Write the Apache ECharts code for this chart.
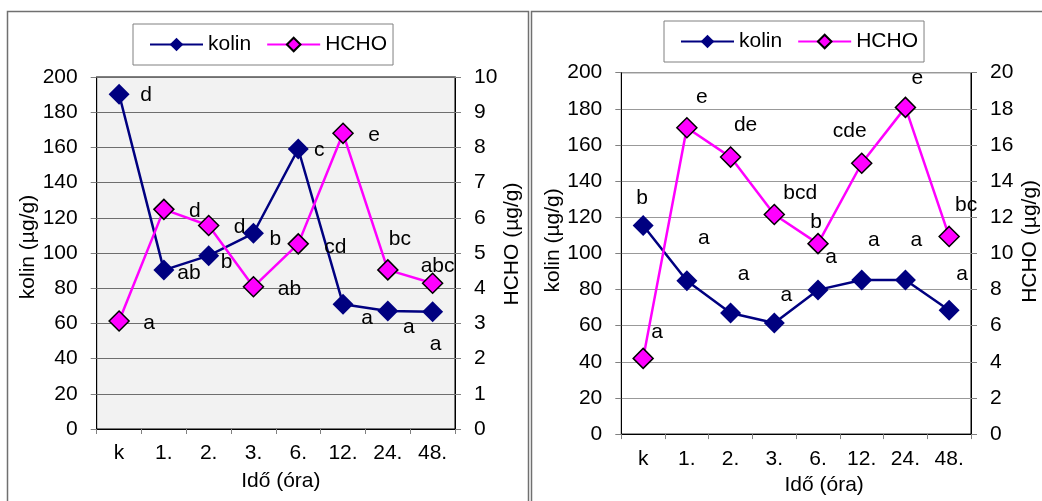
<!DOCTYPE html>
<html><head><meta charset="utf-8">
<script src="https://cdn.jsdelivr.net/npm/echarts@6/dist/echarts.min.js"></script>
<style>html,body{margin:0;padding:0;background:#fff}#c{width:1042px;height:501px}</style>
</head><body><div id="c"></div>
<script>
// ---- data ----
const categories = ['k', '1.', '2.', '3.', '6.', '12.', '24.', '48.'];
const leftKolin = [190.2, 90.3, 98.5, 111.2, 159.1, 70.9, 67.0, 66.6];
const leftHcho = [3.07, 6.24, 5.78, 4.04, 5.26, 8.40, 4.52, 4.14];
const rightKolin = [115.4, 84.9, 67.0, 61.5, 79.8, 85.3, 85.3, 68.5];
const rightHcho = [4.19, 16.95, 15.33, 12.15, 10.54, 14.99, 18.08, 10.94];
const leftKolinLetters = ['d', 'ab', 'b', 'b', 'c', 'a', 'a', 'a'];
const leftHchoLetters = ['a', 'd', 'd', 'ab', 'cd', 'e', 'bc', 'abc'];
const rightKolinLetters = ['b', 'a', 'a', 'a', 'a', 'a', 'a', 'a'];
const rightHchoLetters = ['a', 'e', 'de', 'bcd', 'b', 'cde', 'e', 'bc'];
const kolinAxis = { min: 0, max: 200, interval: 20 };
const leftHchoAxis = { min: 0, max: 10, interval: 1 };
const rightHchoAxis = { min: 0, max: 20, interval: 2 };
const seriesNames = ['kolin', 'HCHO'];
const xTitle = 'Idő (óra)';
const kolinTitle = 'kolin (µg/g)';
const hchoTitle = 'HCHO (µg/g)';

// ---- layout (label placement relative to points) ----
const leftKolinOffsets = [[27,1],[25,3],[18,7],[22,6],[21,1],[24,14],[21,16],[3,32]];
const leftHchoOffsets = [[30,2],[31,2],[31,2],[36,2],[37,3],[31,2],[12,-31],[5,-17]];
const rightKolinOffsets = [[-1,-27],[17,-42],[13,-39],[12,-28],[13,-33],[12,-40],[11,-40],[13,-36]];
const rightHchoOffsets = [[14,-26],[15,-31],[15,-32],[26,-21],[-2,-21],[-12,-32],[12,-29],[17,-31]];

const FONT = 'Liberation Sans, Arial, sans-serif';
const FS = 21;
const NAVY = '#000080', MAG = '#ff00ff';

function items(vals, letters, offs) {
  return vals.map((v, i) => ({
    value: v,
    label: { formatter: letters[i], offset: offs[i] }
  }));
}
const labelBase = { show: true, position: 'inside', color: '#000', fontSize: FS, fontFamily: FONT };

function kolinSeries(gi, vals, letters, offs) {
  return {
    name: seriesNames[0], type: 'line', xAxisIndex: gi, yAxisIndex: gi * 2,
    data: items(vals, letters, offs), symbol: 'diamond', symbolSize: 21,
    itemStyle: { color: NAVY }, lineStyle: { color: NAVY, width: 2.5 },
    label: labelBase, clip: false, z: 2, emphasis: { disabled: true }
  };
}
function hchoSeries(gi, vals, letters, offs) {
  return {
    name: seriesNames[1], type: 'line', xAxisIndex: gi, yAxisIndex: gi * 2 + 1,
    data: items(vals, letters, offs), symbol: 'diamond', symbolSize: 20,
    itemStyle: { color: MAG, borderColor: '#000', borderWidth: 1.5 },
    lineStyle: { color: MAG, width: 2.5 },
    label: labelBase, clip: false, z: 3, emphasis: { disabled: true }
  };
}
function xAxis(gi, labelMargin, nameGap, namePad) {
  return {
    type: 'category', gridIndex: gi, data: categories, boundaryGap: true,
    axisLine: { lineStyle: { color: '#000', width: 1 } },
    axisTick: { show: true, length: 5, lineStyle: { color: '#808080' } },
    axisLabel: { color: '#000', fontSize: FS, fontFamily: FONT, margin: labelMargin, interval: 0 },
    name: xTitle, nameLocation: 'middle', nameGap: nameGap,
    nameTextStyle: { color: '#000', fontSize: FS, fontFamily: FONT, padding: namePad }
  };
}
function yAxis(gi, cfg, pos, name, nameGap, namePad, split, gridColor) {
  return {
    type: 'value', gridIndex: gi, position: pos, min: cfg.min, max: cfg.max, interval: cfg.interval,
    axisLine: { show: true, lineStyle: { color: '#000', width: 1 } },
    axisTick: { show: true, length: 6, lineStyle: { color: '#808080' } },
    axisLabel: { color: '#000', fontSize: FS, fontFamily: FONT, margin: 19 },
    splitLine: { show: split, lineStyle: { color: gridColor, width: 1 } },
    name: name, nameLocation: 'middle', nameGap: nameGap, nameRotate: 90,
    nameTextStyle: { color: '#000', fontSize: FS, fontFamily: FONT, padding: namePad }
  };
}
function legend(left, top) {
  return {
    data: seriesNames, left: left, top: top, orient: 'horizontal',
    itemWidth: 53, itemHeight: 17, itemGap: 15, padding: [10, 6, 10, 16],
    borderColor: '#808080', borderWidth: 1, backgroundColor: '#fff',
    textStyle: { color: '#000', fontSize: FS, fontFamily: FONT },
    selectedMode: false
  };
}

const chart = echarts.init(document.getElementById('c'), null, { renderer: 'canvas' });
chart.setOption({
  animation: false,
  backgroundColor: '#fff',
  graphic: [
    { type: 'rect', shape: { x: 7.5, y: 11.5, width: 521, height: 520 }, style: { fill: 'none', stroke: '#707070', lineWidth: 1.5 }, z: -10 },
    { type: 'rect', shape: { x: 531.5, y: 11.5, width: 520, height: 520 }, style: { fill: 'none', stroke: '#707070', lineWidth: 1.5 }, z: -10 }
  ],
  legend: [legend(133, 24), legend(664, 21)],
  grid: [
    { left: 96.7, top: 77, width: 358.3, height: 352, show: true, backgroundColor: '#f2f2f2', borderColor: '#000', borderWidth: 1, containLabel: false },
    { left: 621.3, top: 72.7, width: 352, height: 364.3, show: true, backgroundColor: '#fff', borderColor: '#000', borderWidth: 1, containLabel: false }
  ],
  xAxis: [xAxis(0, 14, 42, [0, 0, 0, 10]), xAxis(1, 15, 33, [0, 0, 0, 56])],
  yAxis: [
    yAxis(0, kolinAxis, 'left', kolinTitle, 56, [0, 0, 0, 12], true, '#6e6e6e'),
    yAxis(0, leftHchoAxis, 'right', hchoTitle, 45, [0, 0, 0, 18], false, '#6e6e6e'),
    yAxis(1, kolinAxis, 'left', kolinTitle, 57, [0, 0, 0, 26], true, '#999'),
    yAxis(1, rightHchoAxis, 'right', hchoTitle, 49, [0, 0, 0, 24], false, '#999')
  ],
  series: [
    kolinSeries(0, leftKolin, leftKolinLetters, leftKolinOffsets),
    hchoSeries(0, leftHcho, leftHchoLetters, leftHchoOffsets),
    kolinSeries(1, rightKolin, rightKolinLetters, rightKolinOffsets),
    hchoSeries(1, rightHcho, rightHchoLetters, rightHchoOffsets)
  ]
});
</script>
</body></html>
